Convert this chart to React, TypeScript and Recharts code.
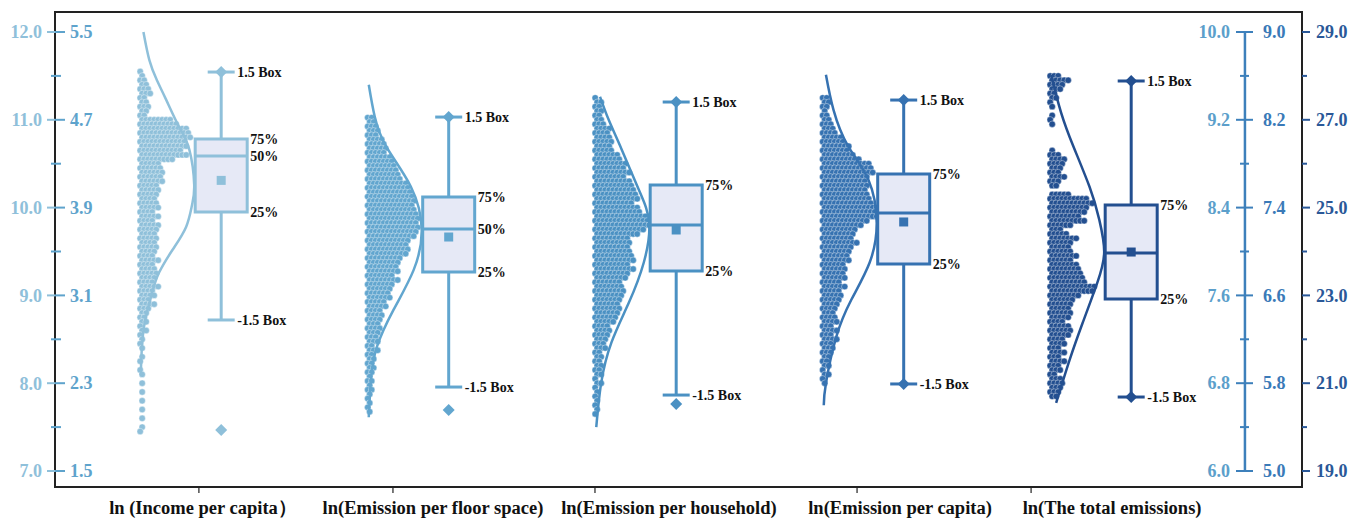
import { Fragment } from "react";
import { ComposedChart, Line, ReferenceArea, ReferenceLine, Scatter, XAxis, YAxis } from "recharts";

const W = 1346;
const H = 513;
const LEFT = 47; // plot frame, svg px
const RIGHT = 1294;
const INNER_AXIS = 1237;
const LABEL_BASE = 506;
const FONT = '"Liberation Serif", "Times New Roman", serif';

const X_MIN = -0.7305;
const X_MAX = 4.7508;
const PX = (X_MAX - X_MIN) / (RIGHT - LEFT);
const BASE = -81 * PX;
const PITCH = 4 * PX;
const BOX_HALF = 26 * PX;
const CAP_HALF = 13.5 * PX;
const VIOLIN = 54 * PX;

const categories = ["ln (Income per capita）", "ln(Emission per floor space)", "ln(Emission per household)", "ln(Emission per capita)", "ln(The total emissions)"];
const positions = [0, 1, 2, 3, 4];
const labelAt = [-0.08, 0.931, 1.968, 2.984, 3.916];
const tickMarks = [-0.098, 0.755, 1.643, 2.795, 3.56];
const colors = ["#8fc0da", "#62a6cf", "#4b91c3", "#3672b1", "#234f90"];
const BOX_FILL = "#e6e9f6";

// box statistics
const maximum = [11.544, 4.725, 9.362, 8.38, 27.884];
const upper = [11.544, 4.725, 9.362, 8.38, 27.884];
const q3 = [10.781, 3.997, 8.606, 7.706, 25.059];
const median = [10.588, 3.705, 8.241, 7.351, 23.966];
const q1 = [9.95, 3.313, 7.822, 6.886, 22.918];
const lower = [8.72, 2.265, 6.692, 5.793, 20.685];
const minimum = [7.467, 2.056, 6.61, 5.793, 20.685];
const means = [10.31, 3.632, 8.196, 7.269, 23.988];
const showMedianLabel = [true, true, false, false, false];

// axis ticks
const incTicks = [7, 8, 9, 10, 11, 12];
const floorTicks = [1.5, 1.9, 2.3, 2.7, 3.1, 3.5, 3.9, 4.3, 4.7, 5.1, 5.5];
const hhTicks = [6.0, 6.4, 6.8, 7.2, 7.6, 8.0, 8.4, 8.8, 9.2, 9.6, 10.0];
const capTicks = [5.0, 5.8, 6.6, 7.4, 8.2, 9.0];
const totalTicks = [19, 20, 21, 22, 23, 24, 25, 26, 27, 28, 29];

// binned data points: value of first bin, bin step, number of points per bin
const incTop = 11.55;
const incStep = 0.05;
const incRows = [1, 1, 2, 2, 3, 3, 2, 2, 3, 2, 2, 8, 10, 12, 13, 13, 12, 12, 11, 12, 9, 5, 6, 6, 6, 6, 5, 5, 5, 4, 5, 5, 4, 5, 4, 5, 5, 4, 5, 4, 5, 4, 4, 5, 4, 4, 5, 4, 4, 5, 4, 4, 3, 4, 3, 2, 2, 2, 1, 2, 1, 1, 1, 1, 0, 1, 1, 0, 1, 1, 0, 1, 0, 1, 0, 1, 0, 1, 0, 1, 0, 1, 1];
const floorTop = 4.72;
const floorStep = 0.04;
const floorRows = [2, 2, 3, 3, 3, 4, 5, 5, 5, 6, 7, 7, 8, 8, 9, 10, 11, 11, 12, 12, 12, 12, 13, 13, 13, 13, 13, 12, 11, 10, 11, 10, 9, 8, 8, 8, 7, 8, 7, 6, 6, 6, 5, 5, 4, 4, 4, 3, 4, 3, 3, 3, 2, 3, 2, 2, 2, 2, 2, 1, 2, 1, 2, 1, 1, 1, 1, 1];
const hhTop = 9.4;
const hhStep = 0.04;
const hhRows = [1, 2, 2, 2, 2, 2, 3, 4, 4, 4, 5, 4, 5, 6, 7, 8, 8, 9, 8, 9, 10, 10, 11, 11, 10, 11, 12, 13, 14, 14, 13, 11, 9, 9, 9, 9, 10, 10, 9, 10, 9, 8, 7, 7, 8, 7, 7, 6, 7, 6, 6, 5, 4, 4, 4, 3, 3, 3, 2, 2, 2, 2, 2, 2, 1, 2, 1, 1, 1, 1, 1, 1, 1];
const capTop = 8.4;
const capStep = 0.04;
const capRows = [2, 2, 2, 1, 2, 2, 3, 3, 4, 5, 6, 7, 7, 8, 10, 12, 13, 13, 12, 11, 12, 11, 12, 12, 13, 14, 14, 14, 12, 10, 9, 8, 8, 9, 8, 7, 7, 7, 6, 6, 6, 6, 5, 6, 5, 5, 5, 4, 4, 3, 4, 4, 3, 4, 3, 4, 3, 3, 3, 2, 2, 2, 1, 2, 1, 1];
const totalTop = 28.0;
const totalStep = 0.1;
const totalRows = [3, 5, 4, 3, 2, 2, 1, 1, 0, 1, 1, 1, 0, 0, 0, 0, 0, 1, 3, 4, 4, 3, 3, 4, 3, 2, 0, 5, 10, 11, 10, 9, 8, 9, 6, 3, 5, 7, 6, 5, 6, 7, 6, 7, 8, 8, 9, 9, 12, 11, 8, 6, 6, 5, 6, 5, 4, 5, 6, 5, 4, 4, 3, 4, 3, 4, 3, 3, 2, 3, 4, 3, 3, 2];

// density curves: value, relative density
const incCurveV = [12.0, 11.68, 11.45, 11.23, 10.92, 10.66, 10.26, 10.03, 9.78, 9.52, 9.26, 9.03, 8.64, 8.26, 8.1];
const incCurveD = [0.06, 0.17, 0.31, 0.48, 0.72, 0.91, 1.0, 0.96, 0.85, 0.6, 0.35, 0.22, 0.07, 0.02, 0.01];
const floorCurveV = [5.02, 4.73, 4.45, 4.09, 3.7, 3.33, 2.97, 2.63, 2.33, 1.99];
const floorCurveD = [0.02, 0.13, 0.35, 0.8, 1.0, 0.85, 0.48, 0.17, 0.06, 0.02];
const hhCurveV = [9.41, 9.2, 8.93, 8.56, 8.26, 7.9, 7.53, 7.17, 6.8, 6.4];
const hhCurveD = [0.09, 0.25, 0.49, 0.81, 1.0, 0.9, 0.62, 0.3, 0.11, 0.02];
const capCurveV = [8.61, 8.29, 7.96, 7.65, 7.26, 6.9, 6.56, 6.22, 5.8, 5.6];
const capCurveD = [0.06, 0.2, 0.47, 0.85, 1.0, 0.87, 0.53, 0.25, 0.06, 0.02];
const totalCurveV = [28.02, 27.34, 26.61, 25.47, 24.72, 23.99, 23.28, 22.37, 21.53, 20.55];
const totalCurveD = [0.02, 0.16, 0.36, 0.73, 0.91, 1.0, 0.87, 0.6, 0.36, 0.11];

const series = [
  { id: "inc", domain: [6.8178, 12.2278], top: incTop, step: incStep, rows: incRows, cv: incCurveV, cd: incCurveD },
  { id: "floor", domain: [1.3542, 5.6822], top: floorTop, step: floorStep, rows: floorRows, cv: floorCurveV, cd: floorCurveD },
  { id: "hh", domain: [5.8542, 10.1822], top: hhTop, step: hhStep, rows: hhRows, cv: hhCurveV, cd: hhCurveD },
  { id: "cap", domain: [4.8542, 9.1822], top: capTop, step: capStep, rows: capRows, cv: capCurveV, cd: capCurveD },
  { id: "total", domain: [18.6355, 29.4556], top: totalTop, step: totalStep, rows: totalRows, cv: totalCurveV, cd: totalCurveD },
];

// income axis: 87.8 px per unit, used to hang the small category ticks under the frame
const INC_MIN = series[0].domain[0];
const TICK_DROP = 6 / 87.8;

const AX = { inc: "#8fc0da", floor: "#5ea3cc", hhText: "#5c9fcb", inner: "#3d80bb", cap: "#3a7ab8", total: "#2a5898" };
const tickText = { fontFamily: FONT, fontSize: 18, fontWeight: 700 };

function cloudPoints(pos: number, top: number, step: number, rows: number[]) {
  const pts: { x: number; y: number }[] = [];
  rows.forEach((n, i) => {
    const y = top - i * step;
    for (let k = 0; k < n; k++) pts.push({ x: pos + BASE + (k + (i % 2) * 0.5) * PITCH, y });
  });
  return pts;
}

function curvePoints(pos: number, vals: number[], dens: number[]) {
  return vals.map((v, i) => ({ x: pos + BASE + dens[i] * VIOLIN, y: v }));
}

const Bead = (color: string) => (p: any) => (
  <circle cx={p.cx} cy={p.cy} r={3.2} fill={color} stroke="#ffffff" strokeOpacity={0.55} strokeWidth={0.7} />
);
const Diamond = (color: string, r: number) => (p: any) => (
  <polygon points={`${p.cx},${p.cy - r} ${p.cx + r},${p.cy} ${p.cx},${p.cy + r} ${p.cx - r},${p.cy}`} fill={color} />
);
const Square = (color: string) => (p: any) => <rect x={p.cx - 4.5} y={p.cy - 4.5} width={9} height={9} fill={color} />;
const Note = (dx: number) => (p: any) => (
  <text x={p.cx + dx} y={p.cy} dy="0.36em" fontFamily={FONT} fontSize={14} fontWeight={700} fill="#111">
    {p.payload.t}
  </text>
);

const IncTick = (p: any) => (
  <g>
    <line x1={LEFT - 8} x2={LEFT} y1={p.y} y2={p.y} stroke={AX.inc} strokeWidth={2} />
    <text x={LEFT - 13} y={p.y} dy="0.35em" textAnchor="end" fill={AX.inc} {...tickText}>
      {p.payload.value.toFixed(1)}
    </text>
  </g>
);

const FloorTick = (p: any) =>
  p.index % 2 === 0 ? (
    <g>
      <line x1={LEFT} x2={LEFT + 10} y1={p.y} y2={p.y} stroke={AX.floor} strokeWidth={2} />
      <text x={LEFT + 15} y={p.y} dy="0.35em" textAnchor="start" fill={AX.floor} {...tickText}>
        {p.payload.value.toFixed(1)}
      </text>
    </g>
  ) : (
    <line x1={LEFT - 4} x2={LEFT + 6} y1={p.y} y2={p.y} stroke={AX.floor} strokeWidth={2} />
  );

const HhTick = (p: any) =>
  p.index % 2 === 0 ? (
    <g>
      <line x1={INNER_AXIS - 9} x2={INNER_AXIS + 8} y1={p.y} y2={p.y} stroke={AX.inner} strokeWidth={2} />
      <text x={INNER_AXIS - 15} y={p.y} dy="0.35em" textAnchor="end" fill={AX.hhText} {...tickText}>
        {p.payload.value.toFixed(1)}
      </text>
    </g>
  ) : (
    <line x1={INNER_AXIS - 5} x2={INNER_AXIS + 4} y1={p.y} y2={p.y} stroke={AX.inner} strokeWidth={2} />
  );

const CapTick = (p: any) => (
  <text x={INNER_AXIS + 18} y={p.y} dy="0.35em" textAnchor="start" fill={AX.cap} {...tickText}>
    {p.payload.value.toFixed(1)}
  </text>
);

const TotalTick = (p: any) =>
  p.index % 2 === 0 ? (
    <g>
      <line x1={RIGHT} x2={RIGHT + 8} y1={p.y} y2={p.y} stroke={AX.total} strokeWidth={2} />
      <text x={RIGHT + 14} y={p.y} dy="0.35em" textAnchor="start" fill={AX.total} {...tickText}>
        {p.payload.value.toFixed(1)}
      </text>
    </g>
  ) : (
    <line x1={RIGHT} x2={RIGHT + 5} y1={p.y} y2={p.y} stroke={AX.total} strokeWidth={2} />
  );

const CategoryTick = (p: any) => (
  <text x={p.x} y={LABEL_BASE} textAnchor="middle" fontFamily={FONT} fontSize={18.5} fontWeight={700} fill="#111">
    {categories[p.index]}
  </text>
);

export default function App() {
  return (
    <div style={{ width: W, height: H }}>
      <ComposedChart width={W} height={H} margin={{ top: 4, right: 4, bottom: 4, left: 7 }}>
        <XAxis xAxisId="x" type="number" dataKey="x" domain={[X_MIN, X_MAX]} allowDataOverflow ticks={labelAt} interval={0} height={30} axisLine={false} tickLine={false} tick={CategoryTick} />
        <YAxis yAxisId="inc" dataKey="y" orientation="left" width={40} domain={series[0].domain} allowDataOverflow ticks={incTicks} interval={0} axisLine={false} tickLine={false} tick={IncTick} />
        <YAxis yAxisId="floor" dataKey="y" orientation="left" mirror domain={series[1].domain} allowDataOverflow ticks={floorTicks} interval={0} axisLine={false} tickLine={false} tick={FloorTick} />
        <YAxis yAxisId="hh" dataKey="y" orientation="right" mirror domain={series[2].domain} allowDataOverflow ticks={hhTicks} interval={0} axisLine={false} tickLine={false} tick={HhTick} />
        <YAxis yAxisId="cap" dataKey="y" orientation="right" mirror domain={series[3].domain} allowDataOverflow ticks={capTicks} interval={0} axisLine={false} tickLine={false} tick={CapTick} />
        <YAxis yAxisId="total" dataKey="y" orientation="right" width={48} domain={series[4].domain} allowDataOverflow ticks={totalTicks} interval={0} axisLine={false} tickLine={false} tick={TotalTick} />

        {series.map((s, i) => {
          const p = positions[i];
          const c = colors[i];
          const pct = [
            { x: p, y: q3[i], t: "75%" },
            { x: p, y: q1[i], t: "25%" },
            ...(showMedianLabel[i] ? [{ x: p, y: median[i], t: "50%" }] : []),
          ];
          const whisk = [
            { x: p, y: upper[i], t: "1.5 Box" },
            { x: p, y: lower[i], t: "-1.5 Box" },
          ];
          return (
            <Fragment key={s.id}>
              <Scatter xAxisId="x" yAxisId={s.id} data={cloudPoints(p, s.top, s.step, s.rows)} dataKey="y" shape={Bead(c)} isAnimationActive={false} zIndex={300} />
              <Line xAxisId="x" yAxisId={s.id} data={curvePoints(p, s.cv, s.cd)} dataKey="y" type="natural" stroke={c} strokeWidth={2.5} dot={false} activeDot={false} isAnimationActive={false} zIndex={350} />
              <ReferenceArea xAxisId="x" yAxisId={s.id} x1={p - BOX_HALF} x2={p + BOX_HALF} y1={q1[i]} y2={q3[i]} fill={BOX_FILL} fillOpacity={1} stroke={c} strokeWidth={3} ifOverflow="visible" zIndex={400} />
              <ReferenceLine xAxisId="x" yAxisId={s.id} segment={[{ x: p, y: q3[i] }, { x: p, y: upper[i] }]} stroke={c} strokeWidth={3} ifOverflow="visible" zIndex={450} />
              <ReferenceLine xAxisId="x" yAxisId={s.id} segment={[{ x: p, y: lower[i] }, { x: p, y: q1[i] }]} stroke={c} strokeWidth={3} ifOverflow="visible" zIndex={450} />
              <ReferenceLine xAxisId="x" yAxisId={s.id} segment={[{ x: p - CAP_HALF, y: upper[i] }, { x: p + CAP_HALF, y: upper[i] }]} stroke={c} strokeWidth={3} ifOverflow="visible" zIndex={450} />
              <ReferenceLine xAxisId="x" yAxisId={s.id} segment={[{ x: p - CAP_HALF, y: lower[i] }, { x: p + CAP_HALF, y: lower[i] }]} stroke={c} strokeWidth={3} ifOverflow="visible" zIndex={450} />
              <ReferenceLine xAxisId="x" yAxisId={s.id} segment={[{ x: p - BOX_HALF, y: median[i] }, { x: p + BOX_HALF, y: median[i] }]} stroke={c} strokeWidth={3} ifOverflow="visible" zIndex={450} />
              <Scatter xAxisId="x" yAxisId={s.id} data={[{ x: p, y: maximum[i] }, { x: p, y: minimum[i] }]} dataKey="y" shape={Diamond(c, 6)} isAnimationActive={false} zIndex={600} />
              <Scatter xAxisId="x" yAxisId={s.id} data={[{ x: p, y: means[i] }]} dataKey="y" shape={Square(c)} isAnimationActive={false} zIndex={600} />
              <Scatter xAxisId="x" yAxisId={s.id} data={pct} dataKey="y" shape={Note(29)} isAnimationActive={false} zIndex={700} />
              <Scatter xAxisId="x" yAxisId={s.id} data={whisk} dataKey="y" shape={Note(16)} isAnimationActive={false} zIndex={700} />
            </Fragment>
          );
        })}

        {/* small category ticks hanging under the frame */}
        {tickMarks.map((t) => (
          <ReferenceLine key={t} xAxisId="x" yAxisId="inc" segment={[{ x: t, y: INC_MIN }, { x: t, y: INC_MIN - TICK_DROP }]} stroke="#333" strokeWidth={1.3} ifOverflow="visible" zIndex={800} />
        ))}
        {/* inner right axis line shared by household and per-capita scales */}
        <ReferenceLine xAxisId="x" yAxisId="hh" segment={[{ x: 4.5, y: 10 }, { x: 4.5, y: 6 }]} stroke={AX.inner} strokeWidth={2.5} ifOverflow="visible" zIndex={450} />
        {/* plot frame */}
        <ReferenceArea xAxisId="x" yAxisId="inc" x1={X_MIN} x2={X_MAX} y1={series[0].domain[0]} y2={series[0].domain[1]} fill="none" stroke="#222" strokeWidth={2} ifOverflow="visible" zIndex={800} />
      </ComposedChart>
    </div>
  );
}
